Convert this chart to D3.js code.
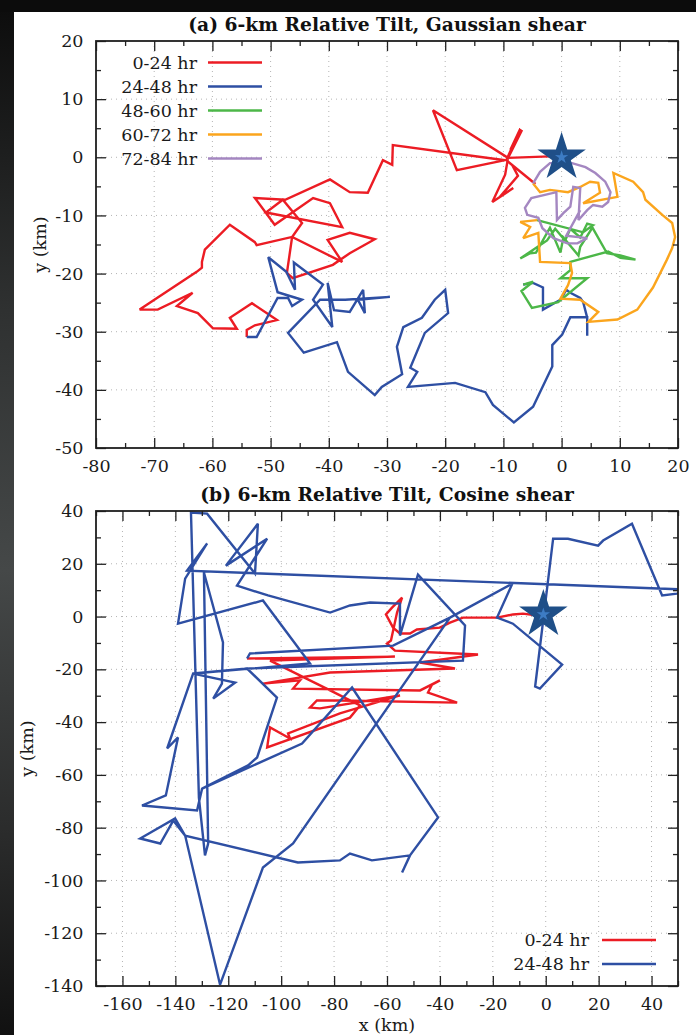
<!DOCTYPE html>
<html>
<head>
<meta charset="utf-8">
<script src="https://cdn.jsdelivr.net/npm/d3@7"></script>
<style>
  html, body { margin: 0; padding: 0; background: #fff; }
  svg { display: block; }
</style>
</head>
<body>
<svg id="fig" width="696" height="1035"></svg>
<script>
// ---------------- data (km) ----------------
// (a) Gaussian shear: tilt vector of the 6-km centre relative to the surface centre
const gaussian_0_24 = [
  [-0.8,0.2],[-9.2,-0.1],[-6.8,4.7],[-8.8,1.3],[-7.1,4.9],[-9.5,-0.5],[-4.5,-4.6],[-8.5,-1.3],
  [-7.5,-3.2],[-10.6,-6.8],[-8.3,-5.3],[-11.9,-7.7],[-9.7,-3.0],[-9.2,-0.1],[-22.1,8.1],[-18.0,-2.2],
  [-9.7,-0.5],[-29.0,2.1],[-29.1,-1.3],[-30.7,-0.5],[-33.3,-6.1],[-36.4,-6.0],[-39.8,-3.8],[-47.5,-7.3],
  [-52.7,-7.0],[-49.3,-11.6],[-42.7,-7.0],[-39.8,-7.9],[-37.7,-12.0],[-50.8,-9.5],[-47.9,-7.3],[-44.6,-11.3],
  [-46.3,-13.7],[-47.2,-19.9],[-46.2,-20.8],[-39.3,-18.5],[-36.4,-16.5],[-32.1,-14.1],[-36.4,-13.0],[-40.2,-14.2],
  [-37.7,-18.0],[-46.3,-13.7],[-52.4,-15.1],[-52.7,-14.6],[-57.0,-11.6],[-61.3,-15.9],[-61.8,-18.0],[-61.8,-19.0],
  [-62.7,-19.7],[-72.5,-26.2],[-69.4,-26.2],[-63.4,-23.3],[-66.1,-25.6],[-62.5,-26.8],[-59.9,-29.4],[-55.8,-29.5],
  [-57.0,-27.6],[-53.2,-25.1],[-48.9,-28.0],[-52.7,-28.9],[-54.1,-29.7],[-54.1,-30.9]
];
const gaussian_24_48 = [
  [-54.1,-30.9],[-52.4,-30.9],[-48.8,-24.2],[-47.0,-24.2],[-46.3,-25.6],[-44.6,-24.5],[-48.8,-23.2],[-50.4,-17.2],
  [-47.3,-19.7],[-45.8,-22.8],[-46.0,-18.1],[-41.0,-21.9],[-42.7,-24.5],[-39.4,-29.2],[-40.2,-21.6],[-39.1,-26.3],
  [-36.4,-26.6],[-34.1,-22.8],[-33.8,-26.8],[-35.0,-24.5],[-29.5,-24.0],[-37.2,-24.5],[-41.5,-24.5],[-47.0,-30.2],
  [-44.3,-33.6],[-38.6,-31.8],[-36.7,-36.9],[-32.1,-40.9],[-30.9,-39.5],[-27.4,-37.3],[-28.3,-32.6],[-27.2,-29.2],
  [-24.0,-27.6],[-21.8,-24.5],[-20.0,-22.8],[-19.5,-26.8],[-23.5,-30.2],[-26.0,-36.2],[-24.8,-36.9],[-26.4,-39.5],
  [-18.3,-38.8],[-13.1,-40.4],[-11.8,-42.6],[-8.2,-45.6],[-4.9,-42.9],[-1.6,-36.0],[-1.6,-32.3],[0.1,-30.5],
  [1.5,-27.5],[4.4,-27.5],[4.4,-30.7],[4.4,-27.6],[3.7,-24.9],[3.2,-24.2],[1.5,-23.3],[0.8,-22.8],
  [-0.2,-24.5],[-3.2,-26.2],[-3.2,-22.4],[-4.9,-21.6],[-6.6,-21.9]
];
const gaussian_48_60 = [
  [-6.6,-21.9],[-4.9,-21.4],[-6.9,-23.0],[-5.1,-25.9],[-0.6,-24.9],[4.4,-20.8],[-0.2,-20.8],[1.5,-19.4],
  [1.5,-18.0],[8.0,-16.2],[10.1,-17.3],[12.7,-17.6],[10.1,-16.9],[7.8,-16.5],[5.3,-12.1],[3.2,-15.4],
  [2.9,-16.9],[0.3,-13.8],[-0.2,-16.4],[-2.0,-12.1],[-4.4,-16.4],[-5.4,-16.5],[-7.1,-17.4],[-2.5,-14.3],
  [-1.1,-12.3],[0.6,-14.3],[1.5,-12.3],[3.2,-13.8],[4.4,-11.4],[5.4,-11.7],[3.7,-12.9],[-4.2,-10.8]
];
const gaussian_60_72 = [
  [-4.2,-10.8],[-7.1,-11.1],[-5.4,-12.0],[-6.6,-13.9],[-4.0,-13.0],[-3.7,-18.0],[1.5,-18.2],[1.8,-19.9],
  [1.1,-22.0],[-0.2,-24.3],[3.2,-24.5],[6.3,-26.6],[4.6,-28.3],[9.6,-27.9],[13.0,-26.2],[15.7,-22.4],
  [18.1,-17.6],[19.0,-15.6],[19.5,-13.7],[19.0,-11.3],[17.3,-9.9],[14.4,-7.3],[14.0,-6.0],[12.3,-4.2],
  [8.9,-2.7],[9.6,-6.8],[3.7,-7.9],[6.6,-6.1],[6.3,-4.4],[4.9,-4.2],[3.2,-5.1],[1.1,-6.0],
  [-2.0,-5.6],[-3.7,-6.0],[-4.9,-4.5]
];
const gaussian_72_84 = [
  [-4.9,-4.5],[-3.7,-2.5],[-2.0,-1.0],[1.8,-1.0],[4.1,-1.7],[5.8,-2.7],[7.5,-4.2],[8.4,-6.0],
  [8.0,-7.7],[7.0,-8.5],[5.4,-8.2],[4.4,-9.1],[2.9,-10.8],[3.2,-5.3],[2.0,-5.1],[1.5,-8.5],
  [0.3,-9.6],[-0.8,-10.8],[-0.9,-6.0],[-5.2,-7.0],[-6.3,-8.7],[-5.9,-9.9],[-4.0,-10.4],[-3.3,-12.2],
  [-1.4,-13.9],[1.0,-14.8],[2.7,-14.8],[4.4,-13.9],[0.8,-13.5],[3.2,-9.1]
];

// (b) Cosine shear
const cosine_0_24 = [
  [-0.3,0.0],[-8.6,1.1],[-12.4,0.8],[-18.4,-0.4],[-23.7,-0.4],[-31.3,-0.4],[-36.2,-2.3],[-40.0,-4.2],
  [-48.7,-4.9],[-51.3,-6.4],[-55.1,-6.4],[-57.7,-4.2],[-60.4,0.8],[-58.1,3.4],[-54.3,7.2],[-56.2,1.5],
  [-58.5,-9.1],[-60.0,-10.2],[-57.0,-12.9],[-25.6,-14.4],[-47.5,-17.4],[-34.3,-19.7],[-81.5,-21.2],[-106.8,-25.4],
  [-92.9,-24.2],[-95.5,-27.3],[-47.5,-28.0],[-40.0,-24.2],[-43.0,-25.8],[-44.5,-28.8],[-33.5,-32.6],[-77.8,-31.8],
  [-86.5,-31.8],[-89.1,-34.5],[-85.3,-34.8],[-55.1,-29.9],[-77.8,-36.7],[-97.4,-44.3],[-96.7,-46.2],[-104.2,-42.0],
  [-105.3,-49.6],[-74.0,-38.3],[-70.2,-33.7],[-81.5,-28.0],[-104.2,-16.7],[-57.0,-15.2],[-112.9,-15.9]
];
const cosine_24_48 = [
  [-112.9,-15.9],[-111.8,-14.0],[-57.7,-11.0],[-36.2,-0.4],[-12.6,12.5],[-18.4,-0.4],[-12.4,-2.7],[6.2,-18.2],
  [-2.2,-27.3],[-4.0,-26.5],[2.8,29.5],[8.4,29.5],[19.8,26.9],[21.7,28.8],[32.6,35.2],[44.0,8.0],
  [49.6,8.7],[53.8,10.2],[-135.6,17.4],[-128.0,27.7],[-136.3,14.4],[-139.0,-2.7],[-106.9,6.1],[-89.1,-17.8],
  [-133.3,-21.6],[-112.9,-19.7],[-101.6,-30.7],[-109.1,-53.4],[-112.5,-56.4],[-129.9,-65.2],[-112.5,-56.4],[-109.1,-53.4],
  [-101.6,-30.7],[-112.9,-19.7],[-31.3,-16.7],[-30.5,-3.4],[-48.3,15.9],[-55.1,-7.2],[-55.1,4.9],[-66.4,5.3],
  [-74.0,4.2],[-81.5,1.5],[-105.0,8.0],[-116.7,11.7],[-105.3,29.5],[-120.9,19.3],[-108.8,35.2],[-109.9,16.3],
  [-128.0,39.0],[-134.1,39.4],[-131.1,-68.6],[-128.8,-90.5],[-127.6,-86.0],[-129.2,16.7],[-122.0,-9.8],[-122.4,-25.4],
  [-125.7,-31.1],[-117.4,-25.0],[-133.3,-21.6],[-143.1,-50.0],[-139.0,-45.8],[-143.6,-67.8],[-152.6,-71.6],[-131.8,-73.5],
  [-129.9,-65.2],[-92.1,-48.1],[-73.2,-26.9],[-40.7,-76.1],[-51.3,-90.5],[-54.3,-97.0],[-51.3,-90.5],[-65.7,-92.4],
  [-74.0,-89.8],[-77.8,-92.4],[-93.7,-93.2],[-136.3,-83.0],[-140.8,-77.3],[-145.7,-86.0],[-153.3,-84.1],[-140.1,-76.5],
  [-136.3,-83.0],[-123.1,-139.5],[-106.9,-95.1],[-95.5,-86.0],[-36.2,-0.4]
];

const periodsA = ["0-24 hr", "24-48 hr", "48-60 hr", "60-72 hr", "72-84 hr"];
const periodsB = ["0-24 hr", "24-48 hr"];
const surfaceCentreA = [0, 0];
const surfaceCentreB = [-0.9, 0.8];

const xTicksA = [-80, -70, -60, -50, -40, -30, -20, -10, 0, 10, 20];
const yTicksA = [-50, -40, -30, -20, -10, 0, 10, 20];
const xTicksB = [-160, -140, -120, -100, -80, -60, -40, -20, 0, 20, 40];
const yTicksB = [-140, -120, -100, -80, -60, -40, -20, 0, 20, 40];

// ---------------- styles ----------------
const periodColors = ["#ec1c24", "#2e4fa3", "#4cb748", "#fba51d", "#a487c1"];
const FONT = "'DejaVu Serif', serif";

const svg = d3.select("#fig");

// page backdrop with the dark border strip
const defs = svg.append("defs");
const g1 = defs.append("linearGradient").attr("id", "edge").attr("x1", 0).attr("y1", 0).attr("x2", 0).attr("y2", 1);
[["0%", "#0c0c0c"], ["30%", "#2f3131"], ["55%", "#454848"], ["80%", "#2b2c2c"], ["100%", "#111"]]
  .forEach(([o, c]) => g1.append("stop").attr("offset", o).attr("stop-color", c));
svg.append("rect").attr("width", 696).attr("height", 1035).attr("fill", "#fff");
svg.append("rect").attr("x", 0).attr("y", 0).attr("width", 14).attr("height", 1035).attr("fill", "url(#edge)");
svg.append("rect").attr("x", 0).attr("y", 0).attr("width", 696).attr("height", 12).attr("fill", "#0c0c0c");

function starPath(cx, cy, R, ratio) {
  const pts = [];
  for (let i = 0; i < 10; i++) {
    const r = i % 2 ? R * ratio : R;
    const a = -Math.PI / 2 + i * Math.PI / 5;
    pts.push([cx + r * Math.cos(a), cy + r * Math.sin(a)]);
  }
  return "M" + pts.map(p => p.join(",")).join("L") + "Z";
}

function drawPanel(cfg) {
  const { left, right, top, bottom } = cfg.box;
  const x = d3.scaleLinear().domain(cfg.xDomain).range([left, right]);
  const y = d3.scaleLinear().domain(cfg.yDomain).range([bottom, top]);
  const g = svg.append("g");

  const clipId = "clip-" + cfg.id;
  defs.append("clipPath").attr("id", clipId)
    .append("rect").attr("x", left).attr("y", top).attr("width", right - left).attr("height", bottom - top);

  // dotted grid at the major ticks
  const grid = g.append("g").attr("stroke", "#b4b4b4").attr("stroke-width", 1).attr("stroke-dasharray", "1,4");
  grid.selectAll(".gx").data(cfg.xTicks.filter(v => x(v) > left + 1 && x(v) < right - 1)).join("line")
    .attr("x1", d => x(d)).attr("x2", d => x(d)).attr("y1", top).attr("y2", bottom);
  grid.selectAll(".gy").data(cfg.yTicks.filter(v => y(v) > top + 1 && y(v) < bottom - 1)).join("line")
    .attr("y1", d => y(d)).attr("y2", d => y(d)).attr("x1", left).attr("x2", right);

  // trajectories
  const line = d3.line().x(d => x(d[0])).y(d => y(d[1]));
  const tracks = g.append("g").attr("clip-path", `url(#${clipId})`);
  cfg.series.forEach((s, i) => {
    tracks.append("path").attr("d", line(s)).attr("fill", "none")
      .attr("stroke", periodColors[i]).attr("stroke-width", 2.4)
      .attr("stroke-linejoin", "miter").attr("stroke-miterlimit", 3);
  });

  // surface centre
  const sx = x(cfg.star[0]), sy = y(cfg.star[1]);
  g.append("path").attr("d", starPath(sx, sy, 25.5, 0.38)).attr("fill", "#1f4f88");
  g.append("path").attr("d", starPath(sx, sy, 7, 0.38)).attr("fill", "#3d7cc4");

  // axes: major and minor inward ticks on all four sides
  const fmt = d => String(d);
  const styleAxis = sel => {
    sel.select(".domain").remove();
    sel.selectAll(".tick line").attr("stroke", "#222").attr("stroke-width", 1.3);
    sel.selectAll(".tick text").attr("font-family", FONT).attr("font-size", 17.5).attr("fill", "#1a1a1a");
  };
  const minorX = d3.range(cfg.xDomain[0], cfg.xDomain[1] + 0.01, cfg.xMinor).filter(v => !cfg.xTicks.includes(v));
  const minorY = d3.range(cfg.yDomain[0], cfg.yDomain[1] + 0.01, cfg.yMinor).filter(v => !cfg.yTicks.includes(v));

  g.append("g").attr("transform", `translate(0,${bottom})`)
    .call(d3.axisBottom(x).tickValues(cfg.xTicks).tickFormat(fmt).tickSizeInner(-10).tickSizeOuter(0).tickPadding(12)).call(styleAxis);
  g.append("g").attr("transform", `translate(0,${bottom})`)
    .call(d3.axisBottom(x).tickValues(minorX).tickFormat("").tickSizeInner(-5).tickSizeOuter(0)).call(styleAxis);
  g.append("g").attr("transform", `translate(0,${top})`)
    .call(d3.axisTop(x).tickValues(cfg.xTicks).tickFormat("").tickSizeInner(-10).tickSizeOuter(0)).call(styleAxis);
  g.append("g").attr("transform", `translate(0,${top})`)
    .call(d3.axisTop(x).tickValues(minorX).tickFormat("").tickSizeInner(-5).tickSizeOuter(0)).call(styleAxis);
  g.append("g").attr("transform", `translate(${left},0)`)
    .call(d3.axisLeft(y).tickValues(cfg.yTicks).tickFormat(fmt).tickSizeInner(-10).tickSizeOuter(0).tickPadding(12.5)).call(styleAxis);
  g.append("g").attr("transform", `translate(${left},0)`)
    .call(d3.axisLeft(y).tickValues(minorY).tickFormat("").tickSizeInner(-5).tickSizeOuter(0)).call(styleAxis);
  g.append("g").attr("transform", `translate(${right},0)`)
    .call(d3.axisRight(y).tickValues(cfg.yTicks).tickFormat("").tickSizeInner(-10).tickSizeOuter(0)).call(styleAxis);
  g.append("g").attr("transform", `translate(${right},0)`)
    .call(d3.axisRight(y).tickValues(minorY).tickFormat("").tickSizeInner(-5).tickSizeOuter(0)).call(styleAxis);

  // frame
  g.append("rect").attr("x", left).attr("y", top).attr("width", right - left).attr("height", bottom - top)
    .attr("fill", "none").attr("stroke", "#1e1e1e").attr("stroke-width", 1.8);

  // title and axis labels
  g.append("text").attr("x", (left + right) / 2).attr("y", top - 10).attr("text-anchor", "middle")
    .attr("font-family", FONT).attr("font-weight", "bold").attr("font-size", 18.7).attr("fill", "#111")
    .text(cfg.title);
  g.append("text").attr("transform", `translate(${cfg.yLabelX},${(top + bottom) / 2}) rotate(-90)`)
    .attr("text-anchor", "middle").attr("dominant-baseline", "central")
    .attr("font-family", FONT).attr("font-size", 17.5).attr("fill", "#1a1a1a").text("y (km)");
  if (cfg.xLabel) {
    g.append("text").attr("x", (left + right) / 2).attr("y", cfg.xLabelY).attr("text-anchor", "middle")
      .attr("font-family", FONT).attr("font-size", 17.5).attr("fill", "#1a1a1a").text(cfg.xLabel);
  }

  // legend
  const lg = g.append("g");
  cfg.legend.labels.forEach((lab, i) => {
    const cy = cfg.legend.y + i * 24;
    lg.append("text").attr("x", cfg.legend.textRight).attr("y", cy).attr("dy", "0.36em")
      .attr("text-anchor", "end").attr("font-family", FONT).attr("font-size", 17.5).attr("fill", "#1a1a1a").text(lab);
    lg.append("line").attr("x1", cfg.legend.lineX[0]).attr("x2", cfg.legend.lineX[1]).attr("y1", cy).attr("y2", cy)
      .attr("stroke", periodColors[i]).attr("stroke-width", 2.4);
  });
}

drawPanel({
  id: "a", box: { left: 96, right: 678, top: 41, bottom: 448 },
  xDomain: [-80, 20], yDomain: [-50, 20], xTicks: xTicksA, yTicks: yTicksA, xMinor: 5, yMinor: 5,
  series: [gaussian_0_24, gaussian_24_48, gaussian_48_60, gaussian_60_72, gaussian_72_84],
  star: surfaceCentreA, title: "(a) 6-km Relative Tilt, Gaussian shear", yLabelX: 40,
  legend: { labels: periodsA, y: 62.5, textRight: 197, lineX: [208, 262] }
});
drawPanel({
  id: "b", box: { left: 96, right: 678, top: 511, bottom: 986 },
  xDomain: [-170, 50], yDomain: [-140, 40], xTicks: xTicksB, yTicks: yTicksB, xMinor: 10, yMinor: 10,
  series: [cosine_0_24, cosine_24_48],
  star: surfaceCentreB, title: "(b) 6-km Relative Tilt, Cosine shear", yLabelX: 27,
  xLabel: "x (km)", xLabelY: 1031,
  legend: { labels: periodsB, y: 940, textRight: 589, lineX: [602, 656] }
});
</script>
</body>
</html>
